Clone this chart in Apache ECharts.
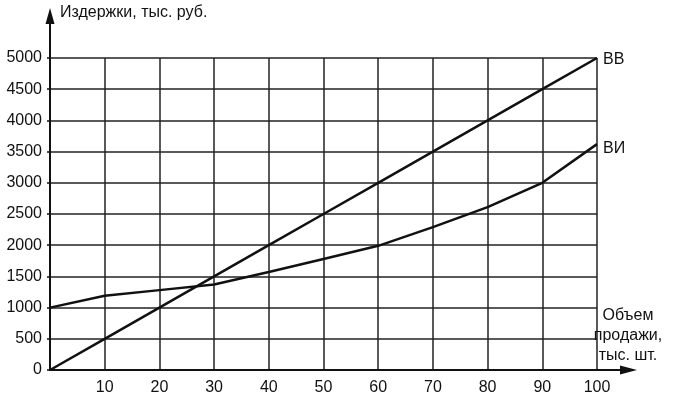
<!DOCTYPE html>
<html>
<head>
<meta charset="utf-8">
<script src="https://cdn.jsdelivr.net/npm/echarts@6/dist/echarts.min.js"></script>
<style>
  html, body { margin: 0; padding: 0; background: #fff; }
  #chart { width: 676px; height: 398px; }
</style>
</head>
<body>
<div id="chart"></div>
<script>
// объем продажи, тыс. шт.
const volumes = [0, 10, 20, 30, 40, 50, 60, 70, 80, 90, 100]
// ВВ — выручка
const revenue = [0, 500, 1000, 1500, 2000, 2500, 3000, 3500, 4000, 4500, 5000]
// ВИ — валовые издержки
const costs = [1000, 1190, 1280, 1370, 1570, 1780, 1990, 2290, 2610, 3000, 3620]

const yTitle = 'Издержки, тыс. руб.'
const xTitle = ['Объем', 'продажи,', 'тыс. шт.']

const font = 'Liberation Sans, Arial, sans-serif'
const ink = '#111'

const chart = echarts.init(document.getElementById('chart'))

function makeLine(name, values, labelOffset) {
  return {
    name,
    type: 'line',
    data: volumes.map((v, i) => [v, values[i]]),
    symbol: 'none',
    lineStyle: { color: ink, width: 2.5 },
    z: 5,
    endLabel: {
      show: true,
      formatter: '{a}',
      color: ink,
      fontSize: 16,
      fontFamily: font,
      offset: labelOffset,
    },
  }
}

chart.setOption({
  animation: false,
  grid: { left: 50, right: 79, top: 58, bottom: 28 },
  xAxis: {
    type: 'value',
    min: 0,
    max: 100,
    interval: 10,
    axisLine: { lineStyle: { color: ink, width: 2 } },
    axisTick: { show: false },
    axisLabel: {
      color: ink,
      fontSize: 16,
      fontFamily: font,
      margin: 10,
      formatter: v => (v === 0 ? '' : String(v)),
    },
    splitLine: { show: true, lineStyle: { color: '#222', width: 1.5 } },
  },
  yAxis: {
    type: 'value',
    min: 0,
    max: 5000,
    interval: 500,
    axisLine: { show: true, lineStyle: { color: ink, width: 2 } },
    axisTick: { show: true, length: 3, lineStyle: { color: ink, width: 1.5 } },
    axisLabel: {
      color: ink,
      fontSize: 16,
      fontFamily: font,
      margin: 8,
      formatter: v => String(v),
    },
    splitLine: { show: true, lineStyle: { color: '#222', width: 1.5 } },
  },
  series: [makeLine('ВВ', revenue, [-2, 2]), makeLine('ВИ', costs, [-2, 4])],
})

// стрелки осей и подписи
const origin = chart.convertToPixel({ gridIndex: 0 }, [0, 0])
const yTop = chart.convertToPixel({ gridIndex: 0 }, [0, 5000])
const xEnd = chart.convertToPixel({ gridIndex: 0 }, [100, 0])

chart.setOption({
  graphic: [
    {
      type: 'line',
      shape: { x1: origin[0], y1: yTop[1], x2: origin[0], y2: 20 },
      style: { stroke: ink, lineWidth: 2 },
    },
    {
      type: 'polygon',
      shape: { points: [[origin[0], 8], [origin[0] - 4.5, 24], [origin[0] + 4.5, 24]] },
      style: { fill: ink },
    },
    {
      type: 'line',
      shape: { x1: xEnd[0], y1: origin[1], x2: xEnd[0] + 28, y2: origin[1] },
      style: { stroke: ink, lineWidth: 2 },
    },
    {
      type: 'polygon',
      shape: { points: [[xEnd[0] + 40, origin[1]], [xEnd[0] + 23, origin[1] - 4.5], [xEnd[0] + 23, origin[1] + 4.5]] },
      style: { fill: ink },
    },
    {
      type: 'text',
      left: origin[0] + 10,
      top: 5,
      style: { text: yTitle, fill: ink, fontSize: 16, fontFamily: font },
    },
    {
      type: 'text',
      x: xEnd[0] + 31,
      y: 306,
      style: {
        text: xTitle.join('\n'),
        fill: ink,
        fontSize: 16,
        fontFamily: font,
        lineHeight: 20,
        align: 'center',
      },
    },
  ],
})
</script>
</body>
</html>
